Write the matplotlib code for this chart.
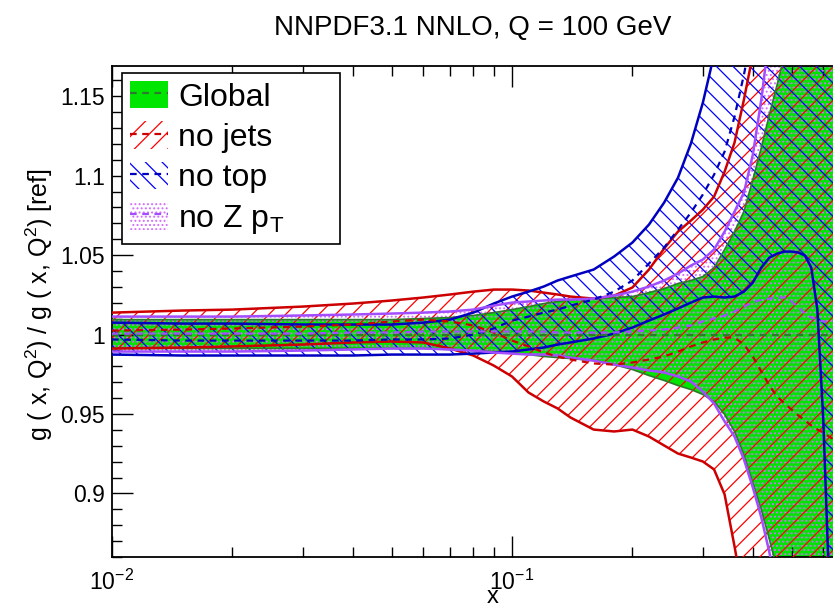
import matplotlib
matplotlib.use("Agg")
import matplotlib.pyplot as plt
from matplotlib.patches import Patch
from matplotlib.lines import Line2D
from matplotlib.legend_handler import HandlerTuple
from matplotlib.ticker import MultipleLocator, FormatStrFormatter, NullFormatter

plt.rcParams["font.family"] = ["Liberation Sans", "DejaVu Sans"]
plt.rcParams["mathtext.default"] = "regular"
plt.rcParams["hatch.linewidth"] = 0.9


# x grid shared by all the bands

x = [0.01, 0.015, 0.02, 0.03, 0.04, 0.05, 0.06, 0.07, 0.08, 0.09,
     0.10, 0.11, 0.12, 0.13, 0.14, 0.16, 0.18, 0.20, 0.22, 0.24,
     0.26, 0.28, 0.30, 0.32, 0.34, 0.36, 0.38, 0.40, 0.42, 0.44,
     0.46, 0.48, 0.50, 0.52, 0.54, 0.56, 0.58, 0.60, 0.62, 0.65]

# Global (reference) band
global_c = [1.0] * len(x)
global_hi = [1.0094, 1.0094, 1.0094, 1.0094, 1.0094, 1.0094, 1.0101, 1.0107, 1.0120, 1.0138,
             1.0157, 1.0176, 1.0195, 1.0208, 1.0220, 1.0226, 1.0233, 1.0239, 1.0264, 1.0289,
             1.0321, 1.0340, 1.0365, 1.0421, 1.0535, 1.0648, 1.0774, 1.0975, 1.1176, 1.1384,
             1.1572, 1.1761, 1.1950, 1.2107, 1.23, 1.25, 1.27, 1.29, 1.31, 1.34]
global_lo = [0.9912, 0.9912, 0.9912, 0.9912, 0.9912, 0.9912, 0.9912, 0.9906, 0.9899, 0.9893,
             0.9887, 0.9874, 0.9862, 0.9855, 0.9849, 0.9836, 0.9811, 0.9780, 0.9742, 0.9711,
             0.9679, 0.9654, 0.9623, 0.9579, 0.9497, 0.9390, 0.9245, 0.9069, 0.8899, 0.8711,
             0.8522, 0.8270, 0.80, 0.78, 0.76, 0.74, 0.72, 0.70, 0.68, 0.66]

# no jets
nojets_c = [1.0025, 1.0031, 1.0038, 1.0050, 1.0063, 1.0082, 1.0094, 1.0082, 1.0057, 1.0013,
            0.9962, 0.9925, 0.9887, 0.9862, 0.9843, 0.9818, 0.9811, 0.9824, 0.9843, 0.9862,
            0.9893, 0.9925, 0.9950, 0.9969, 0.9981, 0.9981, 0.9937, 0.9862, 0.9767, 0.9679,
            0.9610, 0.9566, 0.9528, 0.9491, 0.9459, 0.9428, 0.9402, 0.9384, 0.9358, 0.9327]
nojets_hi = [1.0138, 1.0151, 1.0157, 1.0176, 1.0195, 1.0214, 1.0233, 1.0252, 1.0270, 1.0283,
             1.0283, 1.0277, 1.0264, 1.0252, 1.0239, 1.0226, 1.0245, 1.0296, 1.0409, 1.0541,
             1.0648, 1.0717, 1.0786, 1.0868, 1.1025, 1.1208, 1.1478, 1.1761, 1.2044, 1.23,
             1.26, 1.29, 1.32, 1.35, 1.38, 1.41, 1.44, 1.47, 1.50, 1.54]
nojets_lo = [0.9912, 0.9918, 0.9925, 0.9937, 0.9950, 0.9956, 0.9950, 0.9912, 0.9868, 0.9805,
             0.9736, 0.9635, 0.9579, 0.9535, 0.9478, 0.9402, 0.9390, 0.9402, 0.9358, 0.9302,
             0.9251, 0.9226, 0.9201, 0.9151, 0.8994, 0.8667, 0.8333, 0.80, 0.77, 0.74,
             0.71, 0.68, 0.65, 0.62, 0.60, 0.58, 0.56, 0.54, 0.52, 0.50]

# no top
notop_c = [0.9969, 0.9962, 0.9962, 0.9962, 0.9962, 0.9969, 0.9969, 0.9975, 1.0000, 1.0038,
           1.0088, 1.0113, 1.0138, 1.0157, 1.0182, 1.0220, 1.0270, 1.0340, 1.0447, 1.0547,
           1.0660, 1.0767, 1.0881, 1.1006, 1.1151, 1.1371, 1.1635, 1.1918, 1.2170, 1.25,
           1.28, 1.31, 1.34, 1.37, 1.40, 1.43, 1.46, 1.49, 1.52, 1.55]
notop_hi = [1.0075, 1.0069, 1.0069, 1.0063, 1.0063, 1.0063, 1.0075, 1.0094, 1.0138, 1.0195,
            1.0239, 1.0270, 1.0302, 1.0340, 1.0365, 1.0409, 1.0491, 1.0579, 1.0692, 1.0830,
            1.0987, 1.1201, 1.1459, 1.1761, 1.2044, 1.24, 1.28, 1.32, 1.36, 1.40,
            1.44, 1.48, 1.52, 1.56, 1.60, 1.64, 1.68, 1.72, 1.76, 1.80]
notop_lo = [0.9874, 0.9868, 0.9868, 0.9868, 0.9868, 0.9874, 0.9874, 0.9874, 0.9880, 0.9887,
            0.9893, 0.9906, 0.9918, 0.9937, 0.9950, 0.9975, 1.0006, 1.0044, 1.0088, 1.0126,
            1.0164, 1.0201, 1.0233, 1.0239, 1.0233, 1.0239, 1.0270, 1.0327, 1.0421, 1.0484,
            1.0509, 1.0522, 1.0522, 1.0516, 1.0497, 1.0421, 1.0157, 0.9465, 0.8459, 0.7704]

# no Z pT
nozpt_c = [1.0006, 1.0006, 1.0006, 1.0006, 1.0013, 1.0013, 1.0019, 1.0019, 1.0019, 1.0019,
           1.0019, 1.0019, 1.0019, 1.0013, 1.0013, 1.0013, 1.0013, 1.0019, 1.0025, 1.0031,
           1.0044, 1.0057, 1.0082, 1.0101, 1.0120, 1.0145, 1.0176, 1.0201, 1.0220, 1.0226,
           1.0233, 1.0233, 1.0208, 1.0170, 1.0132, 1.0107, 1.0094, 1.0082, 1.0082, 1.0082]
nozpt_hi = [1.0113, 1.0113, 1.0113, 1.0120, 1.0126, 1.0132, 1.0138, 1.0145, 1.0157, 1.0182,
            1.0201, 1.0208, 1.0214, 1.0220, 1.0220, 1.0226, 1.0245, 1.0270, 1.0302, 1.0340,
            1.0384, 1.0434, 1.0472, 1.0535, 1.0648, 1.0774, 1.0893, 1.1132, 1.1478, 1.1887,
            1.23, 1.27, 1.31, 1.35, 1.39, 1.43, 1.47, 1.51, 1.55, 1.60]
nozpt_lo = [0.9893, 0.9893, 0.9893, 0.9899, 0.9906, 0.9912, 0.9912, 0.9906, 0.9899, 0.9887,
            0.9880, 0.9874, 0.9874, 0.9868, 0.9855, 0.9836, 0.9811, 0.9792, 0.9774, 0.9761,
            0.9736, 0.9704, 0.9641, 0.9566, 0.9453, 0.9358, 0.9214, 0.9038, 0.8849, 0.8629,
            0.8396, 0.8145, 0.79, 0.77, 0.75, 0.73, 0.71, 0.69, 0.67, 0.65]

labels = ["Global", "no jets", "no top", "no Z p$_{T}$"]
x_ticks = [0.01, 0.1]


# colours

green = "#00e600"
dkgreen = "#2d7a2d"
red = "#ff0000"
dkred = "#cc0000"
blue = "#0000ff"
dkblue = "#0000c0"
violet = "#a24dff"
pink = "#d36bff"


fig = plt.figure(figsize=(8.33, 6.06), dpi=100)
# axes run past the right edge of the picture (cropped like the original)
ax = fig.add_axes([112 / 833, 49 / 606, 800 / 833, 491 / 606])

# bands
ax.fill_between(x, global_lo, global_hi, facecolor=green, edgecolor="none", zorder=1)
ax.fill_between(x, nozpt_lo, nozpt_hi, facecolor="none", edgecolor=pink, hatch="....",
                linewidth=0, zorder=2)
ax.fill_between(x, nojets_lo, nojets_hi, facecolor="none", edgecolor=red, hatch="//",
                linewidth=0, zorder=3)
ax.fill_between(x, notop_lo, notop_hi, facecolor="none", edgecolor=blue, hatch="\\\\",
                linewidth=0, zorder=4)

# band edges
ax.plot(x, global_hi, color=dkgreen, lw=1.2, zorder=5)
ax.plot(x, global_lo, color=dkgreen, lw=1.2, zorder=5)
for lo, hi, col in [(nojets_lo, nojets_hi, dkred), (notop_lo, notop_hi, dkblue),
                    (nozpt_lo, nozpt_hi, violet)]:
    ax.plot(x, lo, color=col, lw=1.8, zorder=6)
    ax.plot(x, hi, color=col, lw=1.8, zorder=6)

# central values
dash = (0, (3, 2.5))
ax.plot(x, global_c, color=dkgreen, lw=1.6, ls=dash, zorder=7)
ax.plot(x, nojets_c, color=dkred, lw=1.6, ls=dash, zorder=7)
ax.plot(x, notop_c, color=dkblue, lw=1.6, ls=dash, zorder=7)
ax.plot(x, nozpt_c, color=violet, lw=1.6, ls=dash, zorder=7)

# axes
ax.set_xscale("log")
ax.set_xlim(0.01, 1.0)
ax.set_ylim(0.86, 1.169)
ax.set_xticks(x_ticks)
ax.yaxis.set_major_locator(MultipleLocator(0.05))
ax.yaxis.set_minor_locator(MultipleLocator(0.01))
ax.yaxis.set_major_formatter(FormatStrFormatter("%g"))
ax.xaxis.set_minor_formatter(NullFormatter())
ax.tick_params(which="both", direction="in", top=True, right=False, width=1.0,
               labelsize=16.5)
ax.tick_params(which="major", length=15)
ax.tick_params(which="minor", length=7.5)
ax.tick_params(axis="x", which="major", pad=9)
ax.tick_params(axis="y", which="major", pad=5)
for s in ax.spines.values():
    s.set_linewidth(1.3)

fig.text(473 / 833, 1 - 28 / 606, "NNPDF3.1 NNLO, Q = 100 GeV", ha="center", va="center",
         fontsize=20)
fig.text(493 / 833, 3 / 606, "x", ha="center", va="baseline", fontsize=17)
fig.text(39 / 833, 1 - 305 / 606, "g ( x, Q$^{2}$) / g ( x, Q$^{2}$) [ref]", rotation=90,
         ha="center", va="center", fontsize=18)

# legend
handles = [
    (Patch(facecolor=green, edgecolor="none"),
     Line2D([], [], color=dkgreen, lw=1.6, ls=dash)),
    (Patch(facecolor="white", edgecolor=red, hatch="//", linewidth=0),
     Line2D([], [], color=dkred, lw=1.6, ls=dash)),
    (Patch(facecolor="white", edgecolor=blue, hatch="\\\\", linewidth=0),
     Line2D([], [], color=dkblue, lw=1.6, ls=dash)),
    (Patch(facecolor="white", edgecolor=pink, hatch="....", linewidth=0),
     Line2D([], [], color=violet, lw=1.6, ls=dash)),
]
leg = ax.legend(handles, labels, handler_map={tuple: HandlerTuple(ndivide=1, pad=0)},
                loc="upper left", bbox_to_anchor=(0.0125, 0.986, 0.2725, 0.0),
                mode="expand", borderaxespad=0,
                fontsize=23, frameon=True, fancybox=False, framealpha=1,
                edgecolor="black", handlelength=1.2, handleheight=0.95,
                handletextpad=0.3, labelspacing=0.27, borderpad=0.25)
leg.get_frame().set_linewidth(1.2)
leg.set_zorder(10)

fig.savefig("out.png", dpi=100)
